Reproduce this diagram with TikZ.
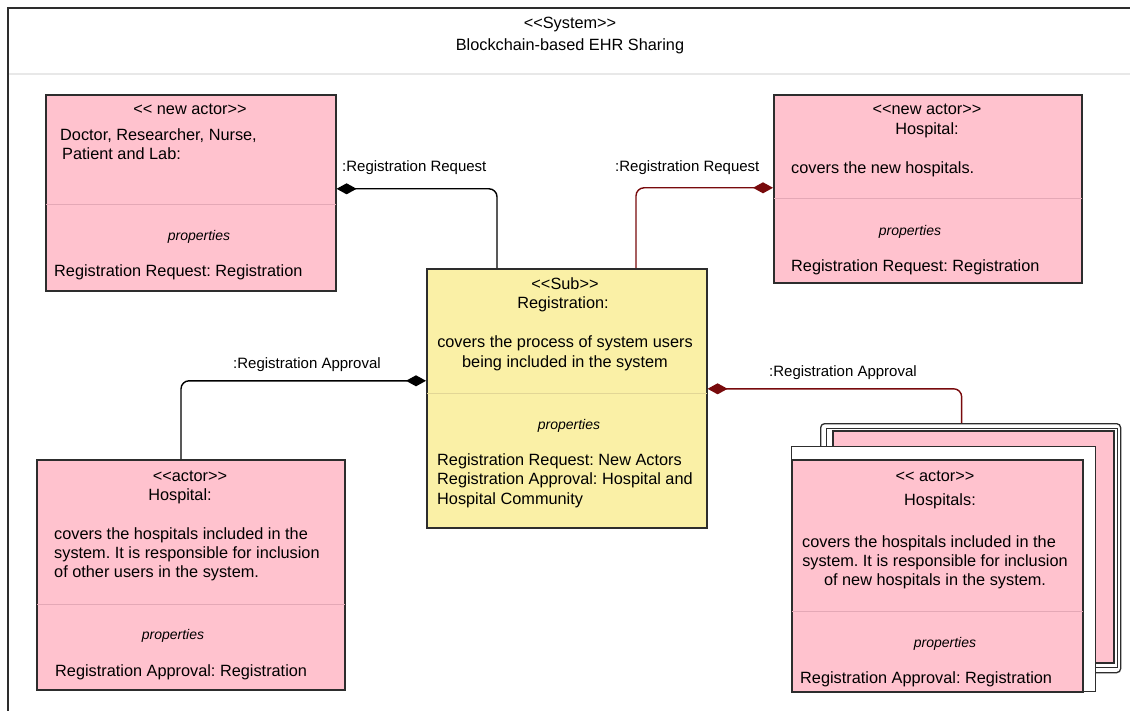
\documentclass[tikz,border=0pt]{standalone}
\usepackage{fontspec}
\setmainfont{Liberation Sans}
\usetikzlibrary{arrows.meta}
\frenchspacing

\definecolor{cardpink}{RGB}{255,194,206}
\definecolor{subyellow}{RGB}{250,240,166}
\definecolor{boxline}{RGB}{45,45,45}
\definecolor{pinkrule}{RGB}{228,168,182}
\definecolor{yellowrule}{RGB}{226,214,150}
\definecolor{maroon}{RGB}{120,10,12}
\definecolor{headrule}{RGB}{232,232,232}

% stereotype brackets kept as two separate characters
\newcommand\stL{<\kern0pt<}
\newcommand\stR{>\kern0pt>}

\begin{document}
\begin{tikzpicture}[x=1pt,y=-1pt,
  card/.style={draw=boxline, line width=1.6pt, fill=cardpink, anchor=north west, inner sep=0},
  subcard/.style={card, fill=subyellow},
  blank/.style={card, fill=white},
  body/.style={inner sep=0, yshift=-1.5pt, font=\fontsize{16.3}{19.5}\selectfont},
  lbl/.style={inner sep=0, yshift=-1pt, font=\fontsize{15}{18}\selectfont},
  prop/.style={inner sep=0, yshift=-1pt, font=\fontsize{14}{17}\selectfont\itshape},
  prule/.style={draw=pinkrule, line width=1pt},
  yrule/.style={draw=yellowrule, line width=1pt},
  conn/.style={line width=1.4pt, rounded corners=8pt, -{Diamond[length=20pt,width=11pt]}}
]
\useasboundingbox (0,0) rectangle (1130,711);
\fill[white] (0,0) rectangle (1130,711);

% system frame and its header
\draw[headrule, line width=2pt] (8,74) -- (1130,74);
\draw[boxline, line width=2pt] (8,711) -- (8,8) -- (1130,8);
\node[body, anchor=base] (sys1) at (570,27) {\stL System\stR};
\node[body, anchor=base] (sys2) at (570,49) {Blockchain-based EHR Sharing};

% new actors: doctor, researcher, nurse, patient and lab
\node[card, minimum width=290pt, minimum height=196pt] (A) at (45,94) {};
\draw[prule] ([xshift=1pt]A.west |- 0,205) -- ([xshift=-1pt]A.east |- 0,205);
\node[body, anchor=base] (a1) at (190,113.5) {\stL{} new actor\stR};
\node[body, anchor=base west] (a2) at (60,139) {Doctor, Researcher, Nurse,};
\node[body, anchor=base west] (a3) at (62,158.5) {Patient and Lab:};
\node[prop, anchor=base] (a4) at (199,239.5) {properties};
\node[body, anchor=base west] (a5) at (54,275.5) {Registration Request: Registration};

% new actor: hospital
\node[card, minimum width=308pt, minimum height=188pt] (B) at (773,94) {};
\draw[prule] ([xshift=1pt]B.west |- 0,199) -- ([xshift=-1pt]B.east |- 0,199);
\node[body, anchor=base] (b1) at (927,113.5) {\stL new actor\stR};
\node[body, anchor=base] (b2) at (927,133) {Hospital:};
\node[body, anchor=base west] (b3) at (791,172) {covers the new hospitals.};
\node[prop, anchor=base] (b4) at (910,234.5) {properties};
\node[body, anchor=base west] (b5) at (791,270) {Registration Request: Registration};

% registration subsystem
\node[subcard, minimum width=280pt, minimum height=259pt] (C) at (426,268) {};
\draw[yrule] ([xshift=1pt]C.west |- 0,393) -- ([xshift=-1pt]C.east |- 0,393);
\node[body, anchor=base] (c1) at (565,288.5) {\stL Sub\stR};
\node[body, anchor=base] (c2) at (563,307.5) {Registration:};
\node[body, anchor=base] (c3) at (565,346.5) {covers the process of system users};
\node[body, anchor=base] (c4) at (565,365.5) {being included in the system};
\node[prop, anchor=base] (c5) at (569,428.5) {properties};
\node[body, anchor=base west] (c6) at (437,463.5) {Registration Request: New Actors};
\node[body, anchor=base west] (c7) at (437,483) {Registration Approval: Hospital and};
\node[body, anchor=base west] (c8) at (437,502.5) {Hospital Community};

% actor: hospital
\node[card, minimum width=308pt, minimum height=230pt] (D) at (36,459) {};
\draw[prule] ([xshift=1pt]D.west |- 0,604) -- ([xshift=-1pt]D.east |- 0,604);
\node[body, anchor=base] (d1) at (190,479.5) {\stL actor\stR};
\node[body, anchor=base] (d2) at (180,498.5) {Hospital:};
\node[body, anchor=base west] (d3) at (54,537.5) {covers the hospitals included in the};
\node[body, anchor=base west] (d4) at (54,556.5) {system. It is responsible for inclusion};
\node[body, anchor=base west] (d5) at (54,576) {of other users in the system.};
\node[prop, anchor=base] (d6) at (173,638.5) {properties};
\node[body, anchor=base west] (d7) at (55,674.5) {Registration Approval: Registration};

% actor: hospitals (stack of cards)
\node[blank, line width=1.3pt, rounded corners=4pt, minimum width=300pt, minimum height=249pt] (Eback) at (820,423) {};
\node[blank, line width=1.3pt, minimum width=291pt, minimum height=239pt] (Emid) at (826,428) {};
\node[card, minimum width=281pt, minimum height=232pt] (Emidp) at (832,430) {};
\node[blank, line width=1.3pt, minimum width=304pt, minimum height=245pt] (Efront) at (791,446) {};
\node[card, minimum width=291pt, minimum height=232pt] (E) at (791,459) {};
\draw[prule] ([xshift=1pt]E.west |- 0,611) -- ([xshift=-1pt]E.east |- 0,611);
\node[body, anchor=base] (e1) at (935,479.5) {\stL{} actor\stR};
\node[body, anchor=base] (e2) at (940,503.5) {Hospitals:};
\node[body, anchor=base] (e3) at (929,545.5) {covers the hospitals included in the};
\node[body, anchor=base] (e4) at (935,564.5) {system. It is responsible for inclusion};
\node[body, anchor=base] (e5) at (935,583.5) {of new hospitals in the system.};
\node[prop, anchor=base] (e6) at (945,646.5) {properties};
\node[body, anchor=base west] (e7) at (800,681.5) {Registration Approval: Registration};

% compositions
\draw[conn, black] ([xshift=71pt]C.north west) |- ([yshift=4pt]A.east);
\node[lbl, anchor=base west] (l1) at (342,171) {:Registration Request};

\draw[conn, maroon] ([xshift=210pt]C.north west) |- ([yshift=1pt]B.west);
\node[lbl, anchor=base west] (l2) at (615,171) {:Registration Request};

\draw[conn, black] ([xshift=145pt]D.north west) |- ([yshift=17.5pt]C.west);
\node[lbl, anchor=base west] (l3) at (233,367) {:Registration Approval};

\draw[conn, maroon] ([xshift=-9pt]Eback.north) |- ([yshift=9.5pt]C.east);
\node[lbl, anchor=base west] (l4) at (769,376) {:Registration Approval};
\end{tikzpicture}
\end{document}
